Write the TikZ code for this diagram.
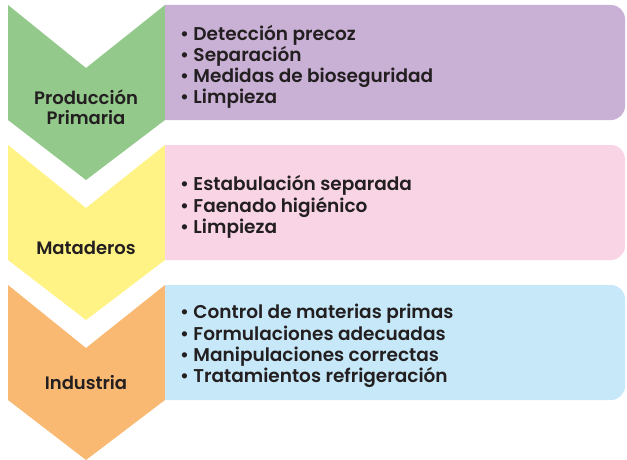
\documentclass[tikz,border=0pt]{standalone}
\usepackage{fontspec}
\setmainfont{Poppins}[BoldFont={* SemiBold}]
\usepackage{tikz}
\usetikzlibrary{positioning}
\definecolor{TextColor}{RGB}{35,31,32}
\definecolor{PrimColor}{RGB}{147,201,139}
\definecolor{MatColor}{RGB}{255,243,133}
\definecolor{IndColor}{RGB}{249,185,115}
\definecolor{PrimBox}{RGB}{201,176,213}
\definecolor{MatBox}{RGB}{248,212,229}
\definecolor{IndBox}{RGB}{198,232,248}
\tikzset{
  stage/.style={font=\bfseries\fontsize{18}{20}\selectfont, text=TextColor, align=center},
  items/.style={font=\bfseries\fontsize{18.5}{21.2}\selectfont, text=TextColor, align=left, anchor=west, inner sep=0pt}
}
% chevron: top y, fill colour
\newcommand{\chevron}[2]{%
  \fill[#2] (8,#1) -- (86,#1+63) -- (165,#1) -- (165,#1+115) -- (86,#1+175) -- (8,#1+115) -- cycle;
}
% box on the right: top y, fill colour
\newcommand{\itembox}[2]{%
  \fill[#2] (165,#1) [rounded corners=14pt] -- (625,#1) -- (625,#1+115) [sharp corners] -- (165,#1+115) -- cycle;
}

\begin{document}
\begin{tikzpicture}[x=1pt, y=-1pt]
  \useasboundingbox (0,0) rectangle (627,460);

  % Produccion primaria
  \chevron{5}{PrimColor}
  \itembox{5}{PrimBox}
  \node[stage] (prim) at (86,107) {Producción\\Primaria};
  \node[items] (primlist) at (180,67) {\textbullet\ Detección precoz\\\textbullet\ Separación\\\textbullet\ Medidas de bioseguridad\\\textbullet\ Limpieza};

  % Mataderos
  \chevron{145}{MatColor}
  \itembox{145}{MatBox}
  \node[stage] (mat) at (86,248) {Mataderos};
  \node[items] (matlist) at (180,207) {\textbullet\ Estabulación separada\\\textbullet\ Faenado higiénico\\\textbullet\ Limpieza};

  % Industria
  \chevron{285}{IndColor}
  \itembox{285}{IndBox}
  \node[stage] (ind) at (86,383) {Industria};
  \node[items] (indlist) at (180,346) {\textbullet\ Control de materias primas\\\textbullet\ Formulaciones adecuadas\\\textbullet\ Manipulaciones correctas\\\textbullet\ Tratamientos refrigeración};
\end{tikzpicture}
\end{document}
